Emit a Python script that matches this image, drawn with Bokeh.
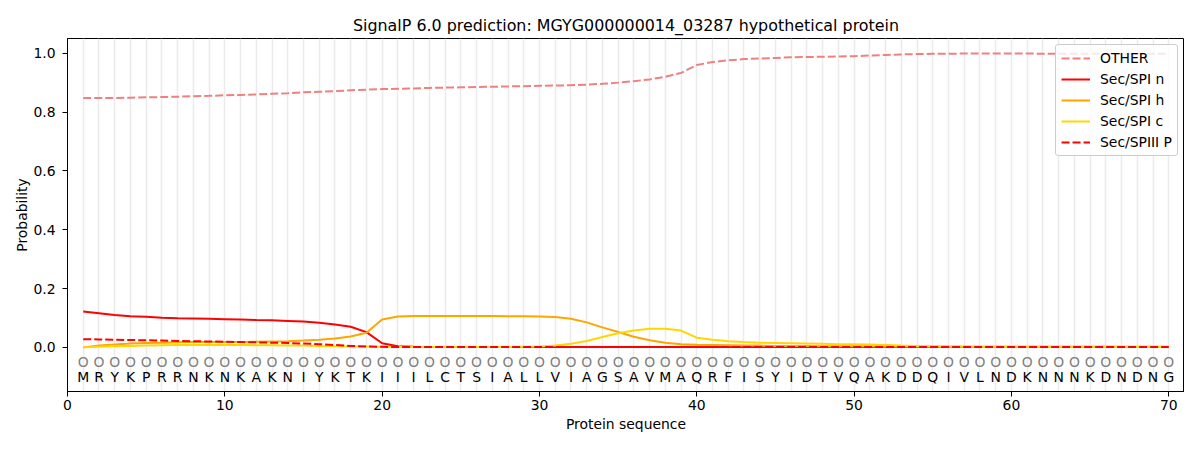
from bokeh.plotting import figure
from bokeh.models import ColumnDataSource, Range1d, FixedTicker, Legend
from bokeh.core.properties import value
from bokeh.embed import file_html
from bokeh.resources import INLINE

sequence = list("MRYKPRRNKNKAKNIYKTKIIILCTSIALLVIAGSAVMAQRFISYIDTVQAKDDQIVLNDKNNNKDNDNG")
positions = list(range(1, 71))
predicted = ["O"] * 70

other = [0.848, 0.848, 0.848, 0.849, 0.850, 0.851, 0.852, 0.854, 0.855, 0.857,
         0.858, 0.860, 0.862, 0.864, 0.867, 0.869, 0.871, 0.874, 0.876, 0.878,
         0.879, 0.880, 0.882, 0.883, 0.884, 0.885, 0.886, 0.887, 0.888, 0.889,
         0.890, 0.891, 0.893, 0.896, 0.900, 0.905, 0.911, 0.920, 0.933, 0.960,
         0.970, 0.976, 0.980, 0.982, 0.984, 0.986, 0.987, 0.988, 0.989, 0.990,
         0.992, 0.994, 0.996, 0.997, 0.998, 0.998, 0.999, 0.999, 0.999, 0.999,
         0.999, 0.998, 0.998, 0.998, 0.998, 0.998, 0.998, 0.998, 0.998, 0.998]

sec_n = [0.122, 0.116, 0.110, 0.106, 0.104, 0.101, 0.099, 0.098, 0.097, 0.096,
         0.095, 0.093, 0.092, 0.090, 0.088, 0.084, 0.078, 0.070, 0.052, 0.014,
         0.004, 0.002, 0.001, 0.001, 0.001, 0.001, 0.001, 0.001, 0.001, 0.001,
         0.001, 0.001, 0.001, 0.001, 0.001, 0.001, 0.001, 0.001, 0.001, 0.001,
         0.001, 0.001, 0.001, 0.001, 0.001, 0.001, 0.001, 0.001, 0.001, 0.001,
         0.001, 0.001, 0.001, 0.001, 0.001, 0.001, 0.001, 0.001, 0.001, 0.001,
         0.001, 0.001, 0.001, 0.001, 0.001, 0.001, 0.001, 0.001, 0.001, 0.001]

sec_h = [0.000, 0.006, 0.010, 0.013, 0.015, 0.016, 0.017, 0.018, 0.018, 0.018,
         0.018, 0.019, 0.020, 0.021, 0.023, 0.026, 0.030, 0.037, 0.050, 0.095,
         0.105, 0.107, 0.107, 0.107, 0.107, 0.107, 0.107, 0.106, 0.106, 0.105,
         0.103, 0.097, 0.085, 0.068, 0.052, 0.036, 0.024, 0.016, 0.011, 0.009,
         0.008, 0.007, 0.006, 0.006, 0.005, 0.005, 0.005, 0.004, 0.004, 0.004,
         0.004, 0.003, 0.003, 0.003, 0.003, 0.003, 0.002, 0.002, 0.002, 0.002,
         0.002, 0.002, 0.002, 0.002, 0.002, 0.002, 0.002, 0.002, 0.002, 0.002]

sec_c = [0.000, 0.002, 0.004, 0.005, 0.006, 0.007, 0.008, 0.008, 0.008, 0.008,
         0.008, 0.007, 0.007, 0.006, 0.006, 0.005, 0.004, 0.003, 0.003, 0.002,
         0.001, 0.001, 0.001, 0.001, 0.001, 0.001, 0.001, 0.001, 0.002, 0.003,
         0.006, 0.012, 0.022, 0.035, 0.048, 0.057, 0.063, 0.063, 0.057, 0.033,
         0.026, 0.021, 0.018, 0.016, 0.015, 0.014, 0.013, 0.012, 0.011, 0.011,
         0.010, 0.008, 0.006, 0.005, 0.004, 0.003, 0.003, 0.002, 0.002, 0.002,
         0.002, 0.002, 0.002, 0.002, 0.002, 0.002, 0.001, 0.001, 0.001, 0.001]

spiii_p = [0.028, 0.027, 0.026, 0.025, 0.024, 0.023, 0.022, 0.021, 0.020, 0.019,
           0.018, 0.017, 0.016, 0.015, 0.013, 0.011, 0.008, 0.005, 0.003, 0.002,
           0.001, 0.001, 0.001, 0.001, 0.001, 0.001, 0.001, 0.001, 0.001, 0.001,
           0.001, 0.001, 0.001, 0.001, 0.001, 0.001, 0.001, 0.001, 0.001, 0.001,
           0.001, 0.001, 0.001, 0.001, 0.001, 0.001, 0.001, 0.001, 0.001, 0.001,
           0.001, 0.001, 0.001, 0.001, 0.001, 0.001, 0.001, 0.001, 0.001, 0.001,
           0.001, 0.001, 0.001, 0.001, 0.001, 0.001, 0.001, 0.001, 0.001, 0.001]

x_ticks = [0, 10, 20, 30, 40, 50, 60, 70]
y_ticks = [0.0, 0.2, 0.4, 0.6, 0.8, 1.0]

FONT = "DejaVu Sans"

p = figure(width=1184, height=434, output_backend="svg", toolbar_location=None,
           x_range=Range1d(0, 71), y_range=Range1d(-0.15, 1.05),
           min_border_left=67, min_border_right=0, min_border_top=38, min_border_bottom=30,
           title="SignalP 6.0 prediction: MGYG000000014_03287 hypothetical protein")

p.title.text_font = FONT
p.title.text_font_size = "15.9px"
p.title.text_font_style = "normal"
p.title.align = "center"
p.title.text_color = "black"
p.title.standoff = 7

p.outline_line_color = "black"
p.outline_line_width = 1
p.background_fill_color = "white"
p.border_fill_color = "white"

p.xgrid.ticker = FixedTicker(ticks=positions)
p.xgrid.grid_line_color = "#ebebeb"
p.xgrid.grid_line_width = 1.5
p.ygrid.grid_line_color = None

for ax, ticks in ((p.xaxis, x_ticks), (p.yaxis, y_ticks)):
    ax.ticker = FixedTicker(ticks=ticks)
    ax.major_label_text_font = FONT
    ax.major_label_text_font_size = "13.9px"
    ax.major_label_text_color = "black"
    ax.axis_label_text_font = FONT
    ax.axis_label_text_font_size = "13.9px"
    ax.axis_label_text_font_style = "normal"
    ax.axis_label_text_color = "black"
    ax.major_tick_in = 0
    ax.major_tick_out = 5
    ax.minor_tick_line_color = None
    ax.axis_line_color = "black"
    ax.major_tick_line_color = "black"

p.xaxis.axis_label = "Protein sequence"
p.yaxis.axis_label = "Probability"
p.yaxis.major_label_overrides = {t: "%.1f" % t for t in y_ticks}
p.xaxis.major_label_standoff = 3
p.yaxis.major_label_standoff = 7
p.xaxis.axis_label_standoff = 3
p.yaxis.axis_label_standoff = 0

src = ColumnDataSource(dict(x=positions, other=other, n=sec_n, h=sec_h, c=sec_c, pp=spiii_p,
                            seq=sequence, pred=predicted,
                            ys=[-0.1] * 70, yo=[-0.05] * 70))

r_other = p.line("x", "other", source=src, line_color="#f08080", line_width=2, line_dash="8 3")
r_n = p.line("x", "n", source=src, line_color="red", line_width=2)
r_h = p.line("x", "h", source=src, line_color="orange", line_width=2)
r_c = p.line("x", "c", source=src, line_color="gold", line_width=2)
r_p = p.line("x", "pp", source=src, line_color="red", line_width=2, line_dash="8 3")

p.text("x", "yo", text="pred", source=src, text_font=value(FONT), text_font_size="13.9px",
       text_align="center", text_baseline="middle", text_color="gray")
p.text("x", "ys", text="seq", source=src, text_font=value(FONT), text_font_size="13.9px",
       text_align="center", text_baseline="middle", text_color="black")

legend = Legend(items=[("OTHER", [r_other]), ("Sec/SPI n", [r_n]), ("Sec/SPI h", [r_h]),
                       ("Sec/SPI c", [r_c]), ("Sec/SPIII P", [r_p])],
                location="top_right")
legend.label_text_font = FONT
legend.label_text_font_size = "13.9px"
legend.label_text_color = "black"
legend.glyph_width = 29
legend.glyph_height = 16
legend.label_height = 16
legend.spacing = 5
legend.padding = 5
legend.margin = 6
legend.label_standoff = 10
legend.border_line_color = "#cccccc"
legend.border_line_alpha = 1
legend.background_fill_alpha = 0.8
legend.border_radius = 3
p.add_layout(legend)

open("out.html", "w").write(file_html(p, INLINE))
